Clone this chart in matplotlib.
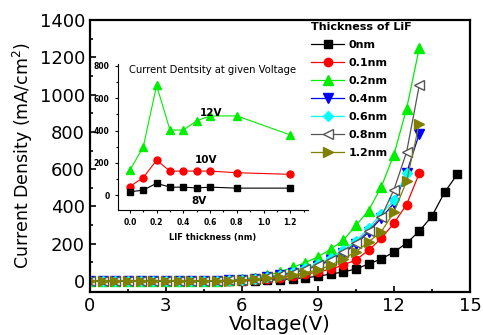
import matplotlib
matplotlib.use("Agg")
import matplotlib.pyplot as plt
from matplotlib.ticker import MultipleLocator

plt.rcParams['font.family'] = ['DejaVu Sans']

# main J-V curves, 0.5 V steps
volt_long = [0, 0.5, 1, 1.5, 2, 2.5, 3, 3.5, 4, 4.5, 5, 5.5, 6, 6.5, 7, 7.5,
             8, 8.5, 9, 9.5, 10, 10.5, 11, 11.5, 12, 12.5, 13, 13.5, 14, 14.5]
volt_13 = volt_long[:27]
volt_125 = volt_long[:26]

j_0nm = [0, 0, 0, 0, 0, 0, 0, 0, 0, 0, 0, 0, 1, 2, 4, 7,
         12, 17, 25, 37, 48, 64, 91, 118, 155, 203, 267, 348, 476, 572]
j_01nm = [0, 0, 0, 0, 0, 0, 0, 0, 0, 0, 0, 1, 2, 5, 9, 16,
          26, 36, 48, 63, 85, 113, 165, 228, 310, 410, 578]
j_02nm = [0, 0, 0, 0, 0, 0, 0, 0, 0, 1, 2, 5, 10, 18, 30, 48,
          73, 98, 130, 170, 218, 298, 378, 505, 678, 925, 1250]
j_04nm = [0, 0, 0, 0, 0, 0, 0, 0, 0, 0, 1, 3, 6, 11, 19, 30,
          44, 60, 82, 110, 148, 198, 262, 338, 417, 580, 790]
j_06nm = [0, 0, 0, 0, 0, 0, 0, 0, 0, 0, 1, 3, 7, 13, 22, 34,
          50, 68, 92, 122, 165, 215, 283, 360, 433, 582]
j_08nm = [0, 0, 0, 0, 0, 0, 0, 0, 0, 0, 1, 3, 6, 11, 19, 30,
          45, 62, 85, 115, 155, 205, 270, 344, 490, 692, 1050]
j_12nm = [0, 0, 0, 0, 0, 0, 0, 0, 0, 0, 1, 2, 4, 8, 14, 22,
          32, 44, 59, 84, 118, 157, 210, 264, 369, 535, 845]

# inset: current density at a given voltage vs LiF thickness
lif_nm = [0.0, 0.1, 0.2, 0.3, 0.4, 0.5, 0.6, 0.8, 1.2]
j_8v = [22, 33, 75, 51, 51, 46, 51, 45, 45]
j_10v = [55, 110, 217, 150, 150, 150, 150, 140, 130]
j_12v = [156, 298, 678, 403, 403, 460, 490, 490, 373]

fig = plt.figure(figsize=(4.83, 3.35), dpi=100)
ax = fig.add_axes([0.186, 0.128, 0.787, 0.812])

ax.plot(volt_long, j_0nm, '-s', color='black', ms=5.5, lw=0.9, label='0nm')
ax.plot(volt_13, j_01nm, '-o', color='red', ms=6, lw=0.9, label='0.1nm')
ax.plot(volt_13, j_02nm, '-^', color='#00ee00', ms=7, lw=0.9, label='0.2nm')
ax.plot(volt_13, j_04nm, '-v', color='blue', ms=7, lw=0.9, label='0.4nm')
ax.plot(volt_125, j_06nm, '-D', color='cyan', ms=5.5, lw=0.9, label='0.6nm')
ax.plot(volt_13, j_08nm, '-<', color='#555555', mfc='white', mec='#555555',
        ms=7, lw=0.9, label='0.8nm')
ax.plot(volt_13, j_12nm, '->', color='#808000', ms=7.5, lw=0.9, label='1.2nm')

ax.set_xlim(0, 15)
ax.set_ylim(-60, 1400)
ax.xaxis.set_major_locator(MultipleLocator(3))
ax.xaxis.set_minor_locator(MultipleLocator(1.5))
ax.yaxis.set_major_locator(MultipleLocator(200))
ax.yaxis.set_minor_locator(MultipleLocator(100))
ax.tick_params(which='both', direction='in', top=False, right=False)
ax.tick_params(which='major', length=4, width=1.2, labelsize=13)
ax.tick_params(which='minor', length=2.5, width=1.2)
for s in ax.spines.values():
    s.set_linewidth(1.6)
ax.set_xlabel('Voltage(V)', fontsize=14, labelpad=0)
ax.set_ylabel('Current Density (mA/cm$^2$)', fontsize=12.5, labelpad=3)

leg = ax.legend(loc='upper left', bbox_to_anchor=(311 / 483, 1 - 22 / 335),
                bbox_transform=fig.transFigure, frameon=False,
                title='Thickness of LiF', alignment='left',
                handlelength=3.0, handletextpad=0.4, labelspacing=0.72,
                borderaxespad=0, borderpad=0,
                prop={'weight': 'bold', 'size': 8})
leg.get_title().set_fontweight('bold')
leg.get_title().set_fontsize(8)

# inset
ins = fig.add_axes([0.244, 0.373, 0.393, 0.436])
ins.plot(lif_nm, j_12v, '-^', color='#00ee00', ms=6, lw=0.8)
ins.plot(lif_nm, j_10v, '-o', color='red', ms=5, lw=0.8)
ins.plot(lif_nm, j_8v, '-s', color='black', ms=4.5, lw=0.8)
ins.set_xlim(-0.09, 1.33)
ins.set_ylim(-90, 810)
ins.xaxis.set_major_locator(MultipleLocator(0.2))
ins.xaxis.set_minor_locator(MultipleLocator(0.1))
ins.yaxis.set_major_locator(MultipleLocator(200))
ins.yaxis.set_minor_locator(MultipleLocator(100))
ins.spines['top'].set_visible(False)
ins.spines['right'].set_visible(False)
ins.patch.set_alpha(0)
ins.tick_params(which='both', direction='out', labelsize=5.5, width=0.8)
ins.tick_params(which='major', length=2.5)
ins.tick_params(which='minor', length=1.5)
for lab in ins.get_xticklabels() + ins.get_yticklabels():
    lab.set_fontweight('bold')
ins.set_xlabel('LIF thickness (nm)', fontsize=6, fontweight='bold', labelpad=4)
ins.text(0.5, 0.96, 'Current Dentsity at given Voltage', transform=ins.transAxes,
         ha='center', va='center', fontsize=7.2)
ins.text(0.61, 508, '12V', fontsize=7.5, fontweight='bold', ha='center', va='center')
ins.text(0.57, 217, '10V', fontsize=7.5, fontweight='bold', ha='center', va='center')
ins.text(0.52, -36, '8V', fontsize=7.5, fontweight='bold', ha='center', va='center')

fig.savefig('out.png', dpi=100)
